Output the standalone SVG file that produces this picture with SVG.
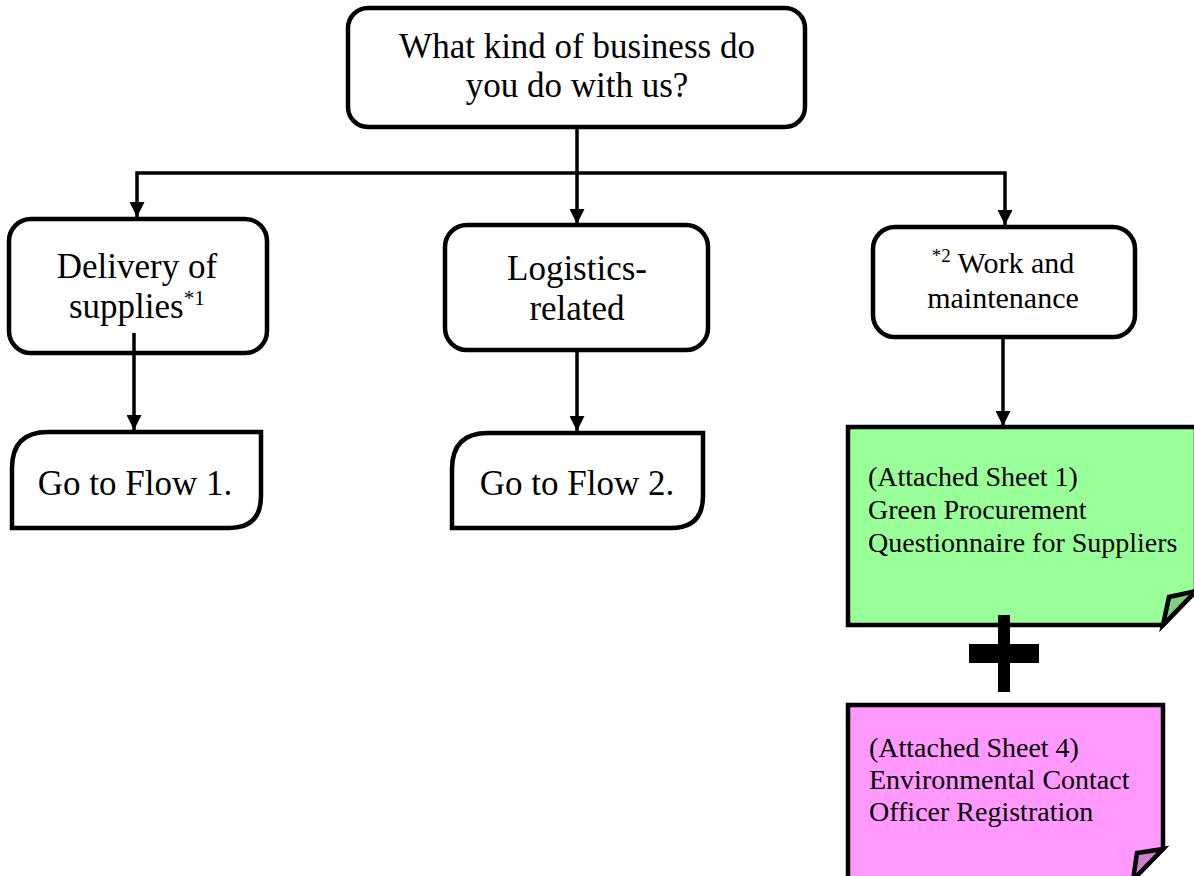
<svg xmlns="http://www.w3.org/2000/svg" width="1194" height="876" viewBox="0 0 1194 876">
<defs>
<marker id="arr" viewBox="0 0 10 10" refX="10" refY="5" markerWidth="15" markerHeight="15" markerUnits="userSpaceOnUse" orient="auto">
<path d="M0,0 L10,5 L0,10 z" fill="#000"/>
</marker>
<style>
.box{fill:#fff;stroke:#000;stroke-width:4.5}
.con{fill:none;stroke:#000;stroke-width:3.5;marker-end:url(#arr)}
.t{font-family:"Liberation Serif","Times New Roman",serif;fill:#000}
.c{text-anchor:middle}
.big{font-size:35px}
.mid{font-size:30px}
.sm{font-size:28px}
.sheet{stroke:#000;stroke-width:4.5;stroke-linejoin:miter}
</style>
</defs>
<rect width="1194" height="876" fill="#fff"/>
<g id="n-question">
<rect class="box" x="348" y="8" width="457" height="119" rx="20"/>
<text class="t c big" x="577" y="58">What kind of business do</text>
<text class="t c big" x="577" y="97">you do with us?</text>
</g>
<g id="n-delivery">
<rect class="box" x="9" y="219" width="258" height="134" rx="22"/>
<text class="t c big" x="137" y="278">Delivery of</text>
<text class="t big" x="69" y="318">supplies<tspan font-size="21" dy="-13">*1</tspan></text>
</g>
<g id="n-logistics">
<rect class="box" x="445" y="225" width="263" height="125" rx="22"/>
<text class="t c big" x="577" y="280">Logistics-</text>
<text class="t c big" x="577" y="320">related</text>
</g>
<g id="n-work">
<rect class="box" x="873" y="227" width="262" height="110" rx="22"/>
<text class="t c mid" x="1003" y="273"><tspan font-size="19" dy="-11">*2</tspan><tspan dy="11"> Work and</tspan></text>
<text class="t c mid" x="1003" y="308">maintenance</text>
</g>
<g id="n-flow1">
<path class="box" d="M12,528 V468 Q12,432 48,432 H261 V496 Q261,528 229,528 Z"/>
<text class="t c big" x="135" y="495">Go to Flow 1.</text>
</g>
<g id="n-flow2">
<path class="box" d="M452,528 V469 Q452,433 488,433 H703 V496 Q703,528 671,528 Z"/>
<text class="t c big" x="577" y="495">Go to Flow 2.</text>
</g>
<g id="n-sheet1">
<path class="sheet" fill="#99ff99" d="M848,427 H1196 V591 L1163,625 H848 Z"/>
<path class="sheet" fill="#7fcf7f" d="M1163,625 L1169,597 L1196,591 Z" stroke-width="4"/>
<text class="t sm" x="868" y="486">(Attached Sheet 1)</text>
<text class="t sm" x="868" y="519">Green Procurement</text>
<text class="t sm" x="868" y="552">Questionnaire for Suppliers</text>
</g>
<g id="plus">
<rect x="998" y="615" width="12" height="77" fill="#000"/>
<rect x="969" y="644" width="70" height="19" fill="#000"/>
</g>
<g id="n-sheet4">
<path class="sheet" fill="#ff99ff" d="M848,705 H1163 V849 L1130,882 H848 Z"/>
<path class="sheet" fill="#cc7fcc" d="M1133,880 L1137,853 L1163,849 Z" stroke-width="4"/>
<text class="t sm" x="869" y="757">(Attached Sheet 4)</text>
<text class="t sm" x="869" y="789">Environmental Contact</text>
<text class="t sm" x="869" y="821">Officer Registration</text>
</g>
<g id="connectors">
<path class="con" d="M577,129 V224"/>
<path class="con" d="M577,173 H137 V217"/>
<path class="con" d="M577,173 H1005 V225"/>
<path class="con" d="M134,333 V430"/>
<path class="con" d="M577,352 V431"/>
<path class="con" d="M1003,339 V426"/>
</g>
</svg>
